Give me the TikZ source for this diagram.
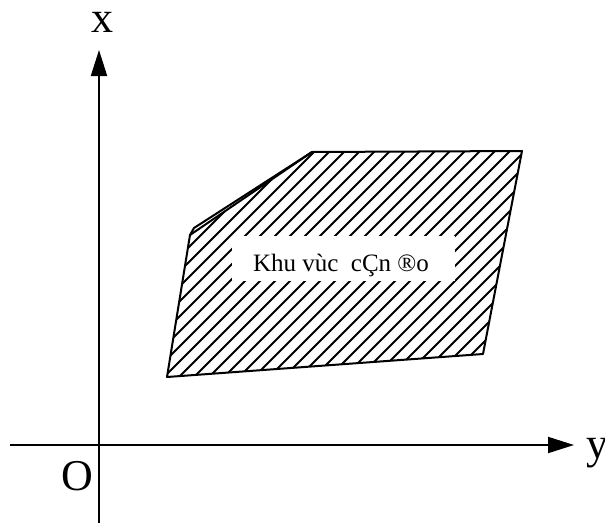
\documentclass[tikz,border=0pt]{standalone}
\usepackage{fontspec}
\setmainfont{Liberation Serif}
\usetikzlibrary{arrows.meta}

\begin{document}
\begin{tikzpicture}[
  x=1pt,
  y=-1pt,
  axis/.style={line width=2pt, -{Triangle[length=26pt,width=16pt]}},
  outline/.style={line width=2pt, line join=round},
  hatchline/.style={line width=1.8pt},
  axislabel/.style={font=\fontsize{44}{48}\selectfont, inner sep=0pt, anchor=base},
  arealabel/.style={font=\fontsize{25}{30}\selectfont, inner sep=0pt, anchor=base}
]
  \useasboundingbox (0,0) rectangle (605,525);
  \def\region{(190,235) -- (312,152) -- (522,151) -- (483,354) -- (167,377) -- cycle}

  % axes
  \coordinate (xfoot) at (99,523);
  \coordinate (xhead) at (99,50);
  \coordinate (yfoot) at (10,445);
  \coordinate (yhead) at (574,445);
  \draw[axis] (xfoot) -- (xhead);
  \draw[axis] (yfoot) -- (yhead);
  \node[axislabel, text height=20pt, text depth=0pt] (xlabel) at (102.5,32) {x};
  \node[axislabel, anchor=base west, text height=20pt, text depth=9pt] (ylabel) at (586,458) {y};
  \node[axislabel] (origin) at (77.5,490) {O};

  % hatched region
  \begin{scope}
    \clip \region;
    \foreach \c in {421,436,...,841}
      \draw[hatchline] (\c-450,450) -- (\c-100,100);
  \end{scope}
  \node[fill=white, minimum width=223pt, minimum height=45pt, inner sep=0pt] (gap) at (343.5,258.5) {};
  \node[arealabel] (area) at (341,271) {Khu vùc~~cÇn ®o};

  \draw[outline] \region;
  \draw[outline] (190,235) -- (194,228) -- (312,152);
\end{tikzpicture}
\end{document}
